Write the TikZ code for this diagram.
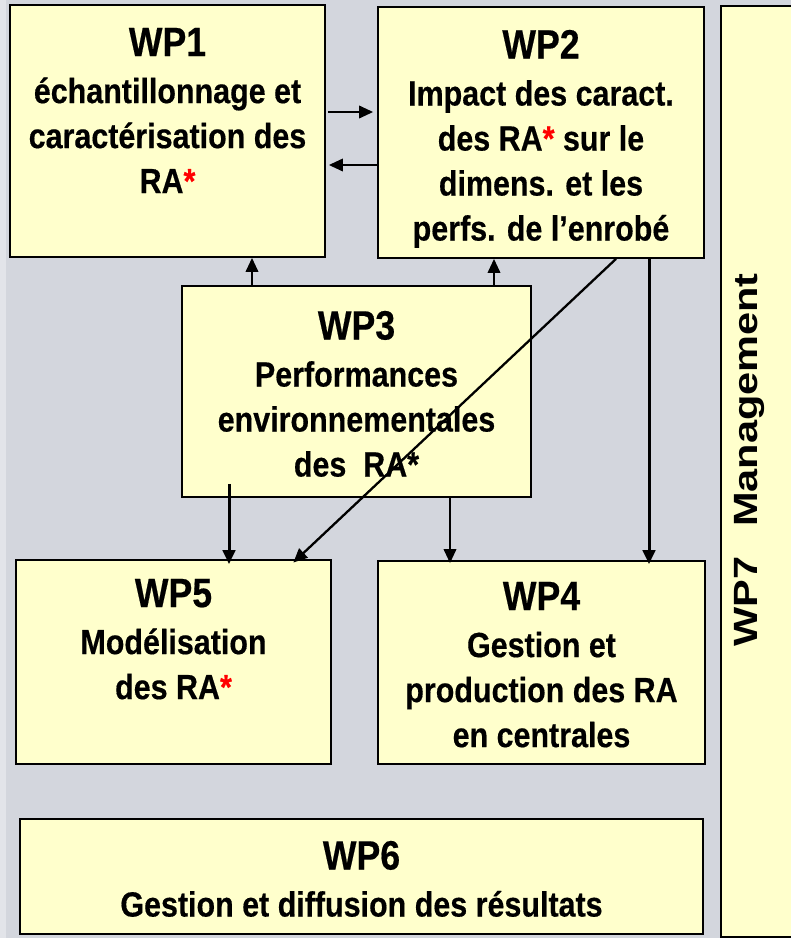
\documentclass[tikz,border=0pt]{standalone}
\usepackage{fontspec}
\usepackage{graphicx}
\usetikzlibrary{arrows.meta}
\setmainfont{Liberation Sans}
\newfontfamily\wpfont{Liberation Sans}[FakeStretch=0.87, BoldFeatures={FakeBold=0.4}]

\definecolor{bgray}{RGB}{211,214,221}
\definecolor{wpyellow}{RGB}{255,255,204}

\newcommand{\wptitle}[1]{{\fontsize{41}{45}\selectfont #1}\\[2pt]}
\newcommand{\rast}{\textcolor{red}{*}}

\tikzset{
	wpbox/.style={draw=black, line width=1.8pt, fill=wpyellow, inner sep=0pt},
	wptext/.style={align=center, inner sep=0pt, anchor=north,
			font=\wpfont\bfseries\fontsize{35}{45}\selectfont},
	link/.style={->, line width=2pt},
	biglink/.style={->, line width=3pt}
}

\begin{document}
\begin{tikzpicture}[>={Triangle[length=14pt, width=12.5pt]}, x=1pt, y=-1pt]

		\clip (0,0) rectangle (791,938);
		\fill[bgray] (0,0) rectangle (791,938);
		\fill[bgray!65!white] (0,0) rectangle (6,938);

		% les boites des work packages
		\foreach \n/\x/\y/\w/\h in {
				wp1/167.5/131/315/252,
				wp2/541/132.5/326/251,
				wp3/356.5/391.5/349/211,
				wp5/173.5/662/315/204,
				wp4/541.5/662.5/327/203,
				wp6/361.5/876.5/683/115,
				wp7/760.5/471.5/79/931
			} {
                \node[wpbox, minimum width=\w pt, minimum height=\h pt] (\n) at (\x,\y) {};
			}

		\node[wptext] (wp1t) at (167.5,27.7) {\wptitle{WP1}échantillonnage et\\caractérisation des\\RA\rast};
		\node[wptext] (wp2t) at (541,29.7) {\wptitle{WP2}Impact des caract.\\des RA\rast{} sur le\\dimens. et les\\perfs. de l’enrobé};
		\node[wptext] (wp3t) at (356.5,310.7) {\wptitle{WP3}Performances\\environnementales\\des\ \ RA*};
		\node[wptext] (wp5t) at (173.5,578.7) {\wptitle{WP5}Modélisation\\des RA\rast};
		\node[wptext] (wp4t) at (541.5,581.7) {\wptitle{WP4}Gestion et\\production des RA\\en centrales};
		\node[wptext] (wp6t) at (361.5,840.7) {\wptitle{WP6}Gestion et diffusion des résultats};
		\node[rotate=90, anchor=base, inner sep=0pt] (wp7t) at (757,460)
			{\scalebox{1}[0.81]{\fontsize{41.5}{45}\selectfont\bfseries WP7\hspace{30pt}Management}};

		% les liens
		\draw[link, shorten <=2pt, shorten >=4pt] ([yshift=19pt]wp1.east) -- ([yshift=20.5pt]wp2.west);
		\draw[link, shorten >=3pt] ([yshift=-32.5pt]wp2.west) -- ([yshift=-34pt]wp1.east);
		\draw[link] ([xshift=-104.5pt]wp3.north) -- ([xshift=84.5pt]wp1.south);
		\draw[link] ([xshift=137.5pt]wp3.north) -- ([xshift=-47pt]wp2.south);
		\draw[link, line width=2.3pt, shorten >=-5pt] ([xshift=75pt]wp2.south) -- ([xshift=123.5pt]wp5.north);
		\draw[biglink, shorten >=-5pt] ([xshift=-127.5pt, yshift=14pt]wp3.south) -- ([xshift=55.5pt]wp5.north);
		\draw[link, shorten >=-3pt] ([xshift=93.5pt]wp3.south) -- ([xshift=-91.5pt]wp4.north);
		\draw[biglink, shorten >=-4pt] ([xshift=108pt]wp2.south) -- ([xshift=107.5pt]wp4.north);
	\end{tikzpicture}
\end{document}
